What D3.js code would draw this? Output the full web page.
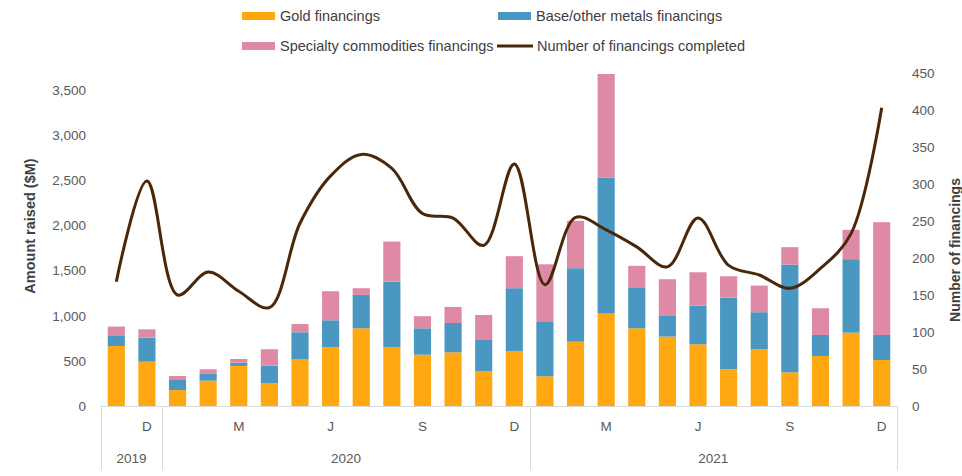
<!DOCTYPE html>
<html>
<head>
<meta charset="utf-8">
<script src="https://d3js.org/d3.v7.min.js"></script>
<style>
  body { margin: 0; background: #fff; }
  svg { font-family: "Liberation Sans", Arial, sans-serif; }
</style>
</head>
<body>
<svg></svg>
<script>
// monthly data, Nov 2019 - Dec 2021
const monthLabels = ["", "D", "", "", "M", "", "", "J", "", "", "S", "", "", "D",
                     "", "", "M", "", "", "J", "", "", "S", "", "", "D"];
const years = ["2019", "2020", "2021"];
const yearCounts = [2, 12, 12];

const gold = [665, 491, 177, 281, 444, 255, 521, 654, 861, 654, 569, 595, 388, 610,
              329, 713, 1024, 861, 769, 684, 407, 629, 373, 554, 813, 510];
const baseMetals = [119, 267, 119, 81, 36, 192, 296, 296, 370, 724, 292, 325, 344, 695,
                    610, 814, 1508, 455, 229, 428, 794, 410, 1194, 233, 814, 277];
const specialty = [96, 92, 37, 45, 41, 182, 92, 322, 74, 444, 134, 178, 277, 355,
                   631, 525, 1147, 237, 407, 370, 237, 295, 193, 296, 325, 1250];
const numFinancings = [168, 304, 150, 181, 155, 133, 247, 311, 340, 321, 260, 254, 217, 327,
                       164, 255, 238, 215, 188, 254, 190, 177, 159, 186, 233, 403];

const leftTicks = [0, 500, 1000, 1500, 2000, 2500, 3000, 3500];
const rightTicks = [0, 50, 100, 150, 200, 250, 300, 350, 400, 450];

let width = 962;
let height = 476;
let svg = d3.select("svg").attr("width", width).attr("height", height);

let colors = { gold: "#FFA812", base: "#4A97C2", spec: "#DF8AA5", line: "#4A2709" };

let xScale = d3.scaleBand()
               .domain(d3.range(gold.length))
               .range([101, 897])
               .paddingInner(0.44)
               .paddingOuter(0.22);
let yLeft = d3.scaleLinear().domain([0, 3690]).range([406, 73]);
let yRight = d3.scaleLinear().domain([0, 450]).range([406, 73]);

function drawBars() {
  let rows = gold.map((g, i) => ({ i: i, gold: g, base: baseMetals[i], spec: specialty[i] }));
  let stack = d3.stack().keys(["gold", "base", "spec"])(rows);

  svg.append("g").selectAll("g")
     .data(stack)
     .enter()
     .append("g")
     .attr("fill", d => colors[d.key])
     .selectAll("rect")
     .data(d => d)
     .enter()
     .append("rect")
     .attr("x", d => xScale(d.data.i))
     .attr("width", xScale.bandwidth())
     .attr("y", d => yLeft(d[1]))
     .attr("height", d => yLeft(d[0]) - yLeft(d[1]));
}

function drawLine() {
  let line = d3.line()
               .x((d, i) => xScale(i) + xScale.bandwidth() / 2)
               .y(d => yRight(d))
               .curve(d3.curveCatmullRom.alpha(0.5));
  svg.append("path")
     .datum(numFinancings)
     .attr("fill", "none")
     .attr("stroke", colors.line)
     .attr("stroke-width", 3)
     .attr("d", line);
}

function drawAxes() {
  let leftAxis = d3.axisLeft(yLeft).tickValues(leftTicks).tickSize(0).tickPadding(0)
                   .tickFormat(d3.format(","));
  let gl = svg.append("g").attr("transform", "translate(86,0)").call(leftAxis);
  gl.select(".domain").remove();
  gl.selectAll("text").attr("fill", "#595959").style("font-size", "13.5px");

  let rightAxis = d3.axisRight(yRight).tickValues(rightTicks).tickSize(0).tickPadding(0);
  let gr = svg.append("g").attr("transform", "translate(912,0)").call(rightAxis);
  gr.select(".domain").remove();
  gr.selectAll("text").attr("fill", "#595959").style("font-size", "13.5px");

  // category axis (two levels)
  let grey = "#D9D9D9";
  svg.append("line").attr("x1", 101).attr("x2", 897).attr("y1", 406.5).attr("y2", 406.5)
     .attr("stroke", grey);

  let bottomAxis = d3.axisBottom(xScale).tickSize(0).tickPadding(0)
                     .tickFormat(i => monthLabels[i]);
  let gb = svg.append("g").attr("transform", "translate(0,421)").call(bottomAxis);
  gb.select(".domain").remove();
  gb.selectAll("text").attr("fill", "#595959").style("font-size", "13.5px");

  let step = xScale.step();
  let start = 0;
  let edges = [101];
  years.forEach((y, k) => {
    let x0 = 101 + start * step;
    let x1 = 101 + (start + yearCounts[k]) * step;
    edges.push(x1);
    svg.append("text")
       .attr("x", (x0 + x1) / 2)
       .attr("y", 463)
       .attr("text-anchor", "middle")
       .attr("fill", "#595959")
       .style("font-size", "13.5px")
       .text(y);
    start += yearCounts[k];
  });
  svg.selectAll(".sep")
     .data(edges)
     .enter()
     .append("line")
     .attr("x1", d => Math.round(d) + 0.5)
     .attr("x2", d => Math.round(d) + 0.5)
     .attr("y1", 406)
     .attr("y2", 470)
     .attr("stroke", grey);

  svg.append("text")
     .attr("transform", "translate(35,226) rotate(-90)")
     .attr("text-anchor", "middle")
     .attr("fill", "#404040")
     .style("font-size", "14.5px")
     .style("font-weight", "bold")
     .text("Amount raised ($M)");

  svg.append("text")
     .attr("transform", "translate(960,250) rotate(-90)")
     .attr("text-anchor", "middle")
     .attr("fill", "#404040")
     .style("font-size", "14px")
     .style("font-weight", "bold")
     .text("Number of financings");
}

function drawLegend() {
  let items = [
    { label: "Gold financings", color: colors.gold, x: 242, y: 16, type: "rect" },
    { label: "Base/other metals financings", color: colors.base, x: 498, y: 16, type: "rect" },
    { label: "Specialty commodities financings", color: colors.spec, x: 242, y: 46, type: "rect" },
    { label: "Number of financings completed", color: colors.line, x: 497, y: 46, type: "line" }
  ];
  let g = svg.append("g").selectAll("g").data(items).enter().append("g");
  g.filter(d => d.type === "rect").append("rect")
   .attr("x", d => d.x).attr("y", d => d.y - 4)
   .attr("width", 33).attr("height", 8)
   .attr("fill", d => d.color);
  g.filter(d => d.type === "line").append("line")
   .attr("x1", d => d.x).attr("x2", d => d.x + 36)
   .attr("y1", d => d.y).attr("y2", d => d.y)
   .attr("stroke", d => d.color).attr("stroke-width", 3);
  g.append("text")
   .attr("x", d => d.x + (d.type === "line" ? 40 : 38))
   .attr("y", d => d.y)
   .attr("dy", "0.35em")
   .attr("fill", "#404040")
   .style("font-size", "14.5px")
   .text(d => d.label);
}

drawBars();
drawLine();
drawAxes();
drawLegend();
</script>
</body>
</html>
